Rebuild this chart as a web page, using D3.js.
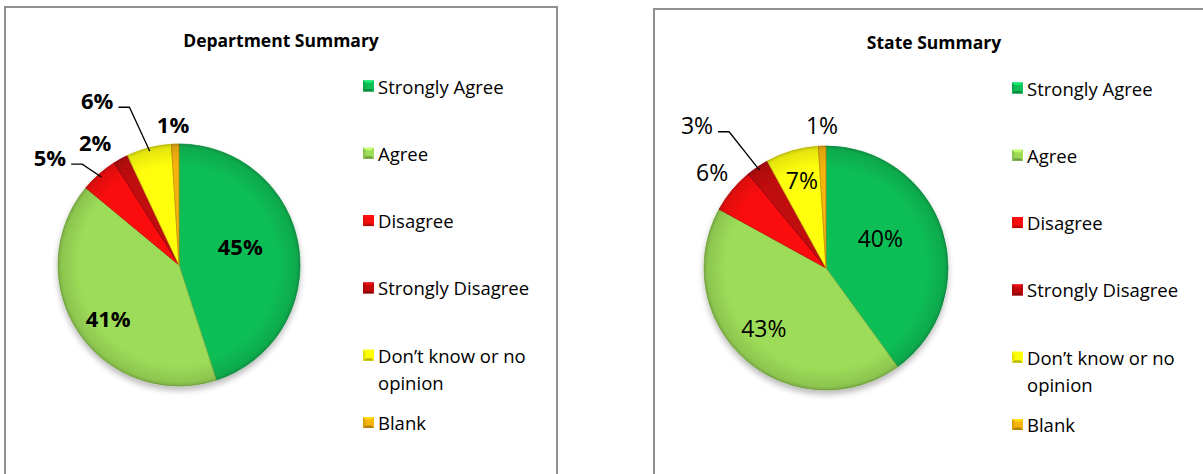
<!DOCTYPE html>
<html>
<head>
<meta charset="utf-8">
<script src="https://cdn.jsdelivr.net/npm/d3@7/dist/d3.min.js"></script>
<style>
  html, body { margin: 0; padding: 0; background: #ffffff; }
  svg { display: block; }
</style>
</head>
<body>
<svg id="chart" width="1203" height="474"></svg>
<script>
// Survey responses, in percent
const categories = ["Strongly Agree", "Agree", "Disagree", "Strongly Disagree", "Don\u2019t know or no opinion", "Blank"];
const departmentValues = [45, 41, 5, 2, 6, 1];
const stateValues = [40, 43, 6, 3, 7, 1];
const panelTitles = ["Department Summary", "State Summary"];

const sliceColors = ["#0dbd55", "#9ddc58", "#fb0d0d", "#c0080c", "#ffff0a", "#f6b40c"];
const FONT = "'Open Sans', Lato, sans-serif";

// Label placement per slice: [angle shift from slice middle (deg), distance as share of radius, leader line?]
const deptLabelLayout = [[-8.3, 0.53, false], [-2.5, 0.73, false], [-8.7, 1.39, true], [-5.5, 1.23, false], [-12, 1.52, true], [-0.6, 1.17, false]];
const stateLabelLayout = [[-11.1, 0.51, false], [4.5, 0.71, false], [0.5, 1.22, false], [-7.8, 1.58, true], [0.9, 0.75, false], [0.2, 1.17, false]];

const panels = [
  { title: panelTitles[0], values: departmentValues, box: [5, 7, 552], cx: 179, cy: 265, r: 121, bold: true, layout: deptLabelLayout, legendX: 363, legendY: 86 },
  { title: panelTitles[1], values: stateValues, box: [654, 9, 560], cx: 826, cy: 268, r: 122, bold: false, layout: stateLabelLayout, legendX: 1012, legendY: 88 }
];

const svg = d3.select("#chart");
const defs = svg.append("defs");

// soft drop shadow under each pie
const shadow = defs.append("filter").attr("id", "pieShadow")
  .attr("x", "-20%").attr("y", "-20%").attr("width", "140%").attr("height", "140%");
shadow.append("feGaussianBlur").attr("in", "SourceAlpha").attr("stdDeviation", 3).attr("result", "blur");
shadow.append("feOffset").attr("in", "blur").attr("dy", 4).attr("result", "off");
shadow.append("feComponentTransfer").attr("in", "off").attr("result", "soft")
  .append("feFuncA").attr("type", "linear").attr("slope", 0.28);
const merge = shadow.append("feMerge");
merge.append("feMergeNode").attr("in", "soft");
merge.append("feMergeNode").attr("in", "SourceGraphic");

// darkened rim for a slightly rounded look
const rim = defs.append("radialGradient").attr("id", "rimShade");
rim.append("stop").attr("offset", "0%").attr("stop-color", "#000").attr("stop-opacity", 0);
rim.append("stop").attr("offset", "82%").attr("stop-color", "#000").attr("stop-opacity", 0);
rim.append("stop").attr("offset", "97%").attr("stop-color", "#000").attr("stop-opacity", 0.10);
rim.append("stop").attr("offset", "100%").attr("stop-color", "#000").attr("stop-opacity", 0.22);

const color = d3.scaleOrdinal().domain(categories).range(sliceColors);
const pie = d3.pie().sort(null).value(d => d.value).startAngle(0).endAngle(2 * Math.PI);

function polar(cx, cy, angle, radius) {
  return [cx + radius * Math.sin(angle), cy - radius * Math.cos(angle)];
}

function wrapLines(text, maxWidth, fontSize) {
  // break legend text into lines no wider than maxWidth
  const probe = svg.append("text").attr("font-family", FONT).attr("font-size", fontSize);
  const words = text.split(" ");
  const lines = [];
  let line = [];
  words.forEach(w => {
    const trial = line.concat([w]).join(" ");
    probe.text(trial);
    if (probe.node().getComputedTextLength() > maxWidth && line.length) {
      lines.push(line.join(" "));
      line = [w];
    } else {
      line.push(w);
    }
  });
  if (line.length) lines.push(line.join(" "));
  probe.remove();
  return lines;
}

const LEGEND_SIZE = 18.5;

panels.forEach(p => {
  const g = svg.append("g");

  // chart area frame (open at the bottom edge of the view)
  g.append("path")
    .attr("d", `M${p.box[0]},480 V${p.box[1]} H${p.box[0] + p.box[2]} V480`)
    .attr("fill", "none").attr("stroke", "#8f8f8f").attr("stroke-width", 2);

  g.append("text")
    .attr("x", p.box[0] + p.box[2] / 2).attr("y", p.box[1] + 40)
    .attr("text-anchor", "middle")
    .attr("font-family", FONT).attr("font-weight", "bold").attr("font-size", 17.5)
    .attr("fill", "#000").text(p.title);

  const data = categories.map((c, i) => ({ category: c, value: p.values[i] }));
  const arcs = pie(data);
  const arc = d3.arc().innerRadius(0).outerRadius(p.r);

  const pieG = g.append("g").attr("transform", `translate(${p.cx},${p.cy})`).attr("filter", "url(#pieShadow)");
  pieG.selectAll("path.slice").data(arcs).join("path")
    .attr("class", "slice")
    .attr("d", arc)
    .attr("fill", d => color(d.data.category))
    .attr("stroke", d => d3.color(color(d.data.category)).darker(0.6))
    .attr("stroke-width", 0.8)
    .attr("stroke-linejoin", "round");
  pieG.append("circle").attr("r", p.r).attr("fill", "url(#rimShade)").attr("pointer-events", "none");

  // value labels
  arcs.forEach((a, i) => {
    const [shift, dist, leader] = p.layout[i];
    const mid = (a.startAngle + a.endAngle) / 2;
    const ang = mid + shift * Math.PI / 180;
    const [lx, ly] = polar(p.cx, p.cy, ang, dist * p.r);
    const t = g.append("text")
      .attr("x", lx).attr("y", ly)
      .attr("text-anchor", "middle").attr("dominant-baseline", "central")
      .attr("font-family", FONT).attr("font-size", p.bold ? 22 : 23)
      .attr("font-weight", p.bold ? "bold" : "normal")
      .attr("fill", "#000")
      .text(d3.format(".0f")(a.data.value) + "%");
    if (leader) {
      const w = t.node().getComputedTextLength();
      const x0 = lx + w / 2 + 5, y0 = ly + 7;
      const [ex, ey] = polar(p.cx, p.cy, mid, p.r * 0.97);
      g.append("path")
        .attr("d", `M${x0},${y0} H${x0 + 11} L${ex},${ey}`)
        .attr("fill", "none").attr("stroke", "#000").attr("stroke-width", 1.3);
    }
  });

  // legend
  const step = 67.3;
  categories.forEach((c, i) => {
    const y = p.legendY + i * step;
    const s = 11, x = p.legendX, top = y - s / 2;
    const base = d3.color(color(c));
    g.append("rect").attr("x", x).attr("y", top).attr("width", s).attr("height", s).attr("fill", base);
    g.append("path")
      .attr("d", `M${x},${top + s} L${x + 2.5},${top + s - 2.5} H${x + s - 2.5} L${x + s},${top + s} Z`)
      .attr("fill", base.darker(0.9));
    g.append("path")
      .attr("d", `M${x},${top} L${x + 2.5},${top + 2.5} H${x + s - 2.5} L${x + s},${top} Z`)
      .attr("fill", base.brighter(0.6));
    g.append("path")
      .attr("d", `M${x},${top} L${x + 2.5},${top + 2.5} V${top + s - 2.5} L${x},${top + s} Z`)
      .attr("fill", base.darker(0.3));
    const lines = wrapLines(c, 165, LEGEND_SIZE);
    lines.forEach((ln, k) => {
      g.append("text")
        .attr("x", x + s + 4).attr("y", y + k * 27)
        .attr("dominant-baseline", "central")
        .attr("font-family", FONT).attr("font-size", LEGEND_SIZE)
        .attr("fill", "#000").text(ln);
    });
  });
});
</script>
</body>
</html>
